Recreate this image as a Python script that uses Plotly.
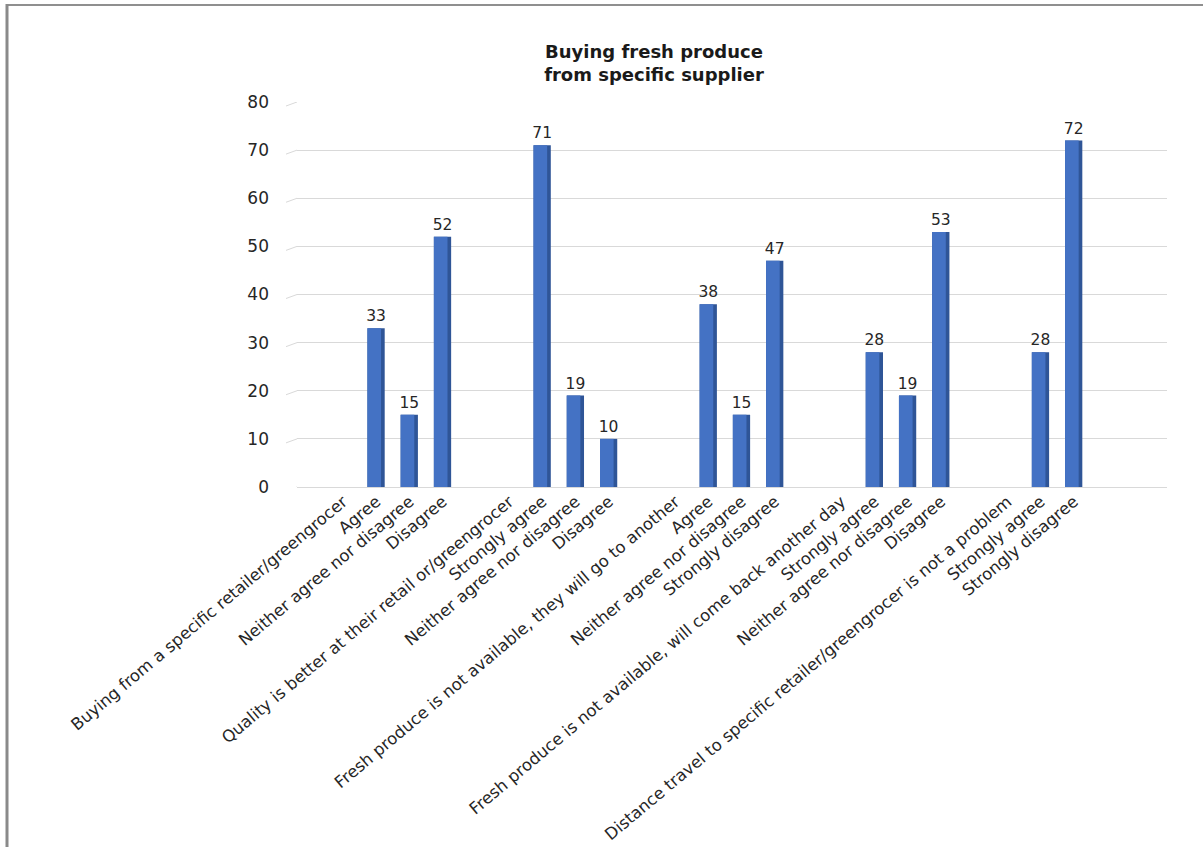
import plotly.graph_objects as go

# Category slots along the floor: a group heading, its responses, then a spacer
labels = [
    "", "Buying from a specific retailer/greengrocer", "Agree", "Neither agree nor disagree", "Disagree",
    "", "Quality is better at their retail or/greengrocer", "Strongly agree", "Neither agree nor disagree", "Disagree",
    "", "Fresh produce is not available, they will go to another", "Agree", "Neither agree nor disagree", "Strongly disagree",
    "", "Fresh produce is not available, will come back another day", "Strongly agree", "Neither agree nor disagree", "Disagree",
    "", "Distance travel to specific retailer/greengrocer is not a problem", "Strongly agree", "Strongly disagree",
]
values = [
    None, None, 33, 15, 52,
    None, None, 71, 19, 10,
    None, None, 38, 15, 47,
    None, None, 28, 19, 53,
    None, None, 28, 72,
]
y_ticks = [0, 10, 20, 30, 40, 50, 60, 70, 80]

positions = list(range(len(labels)))
text = [str(v) if v is not None else "" for v in values]

FONT = "DejaVu Sans"
FACE = "#4472C4"
SIDE = "#2F5597"

# plot-area geometry in pixels
L, R, T, B = 297, 36, 102, 360
W_PX = 1203 - L - R
H_PX = 847 - T - B
x_lo = -0.39
x_hi = x_lo + W_PX / 33.22

fig = go.Figure()
# full column (dark side shows on the right) carrying the value labels
fig.add_trace(go.Bar(
    x=positions, y=values, width=0.52, offset=-0.27,
    marker=dict(color=SIDE, line=dict(width=0)),
    text=text, textposition="outside", cliponaxis=False, constraintext="none",
    textfont=dict(family=FONT, size=15.5, color="#262626"),
    hoverinfo="skip",
))
# front face
fig.add_trace(go.Bar(
    x=positions, y=values, width=0.41, offset=-0.27,
    marker=dict(color=FACE, line=dict(width=0)),
    hoverinfo="skip",
))

shapes = []
# short side-wall stubs at the left end of each gridline
dy_units = 4 * 80 / H_PX
for v in y_ticks:
    shapes.append(dict(type="line", xref="paper", yref="y",
                       x0=-11 / W_PX, y0=v - dy_units, x1=0, y1=v,
                       line=dict(color="#d9d9d9", width=1)))
# outer frame lines (top and left)
shapes.append(dict(type="line", xref="paper", yref="paper",
                   x0=(6 - L) / W_PX, x1=(1203 - L) / W_PX,
                   y0=(847 - B - 5) / H_PX, y1=(847 - B - 5) / H_PX,
                   line=dict(color="#8f8f8f", width=2)))
shapes.append(dict(type="line", xref="paper", yref="paper",
                   x0=(7 - L) / W_PX, x1=(7 - L) / W_PX,
                   y0=(847 - B - 4) / H_PX, y1=-B / H_PX,
                   line=dict(color="#8a8a8a", width=3)))

fig.update_layout(
    width=1203, height=847,
    margin=dict(l=L, r=R, t=T, b=B, autoexpand=False),
    paper_bgcolor="white", plot_bgcolor="white",
    barmode="overlay", showlegend=False,
    title=dict(
        text="<b>Buying fresh produce<br>from specific supplier</b>",
        x=654 / 1203, xanchor="center", xref="container",
        y=1 - 58 / 847, yanchor="middle", yref="container",
        font=dict(family=FONT, size=18, color="#1a1a1a"),
    ),
    xaxis=dict(
        range=[x_lo, x_hi], tickmode="array", tickvals=positions, ticktext=labels,
        tickangle=-40, showgrid=False, zeroline=False, showline=False, ticks="",
        ticklabelstandoff=1,
        tickfont=dict(family=FONT, size=16.5, color="#262626"),
    ),
    yaxis=dict(
        range=[0, 80], tickvals=y_ticks, showgrid=True, gridcolor="#d9d9d9", gridwidth=1,
        zeroline=True, zerolinecolor="#d9d9d9", zerolinewidth=1, showline=False, ticks="",
        ticklabelstandoff=27,
        tickfont=dict(family=FONT, size=17, color="#262626"),
    ),
    shapes=shapes,
)

fig.write_html("out.html")
